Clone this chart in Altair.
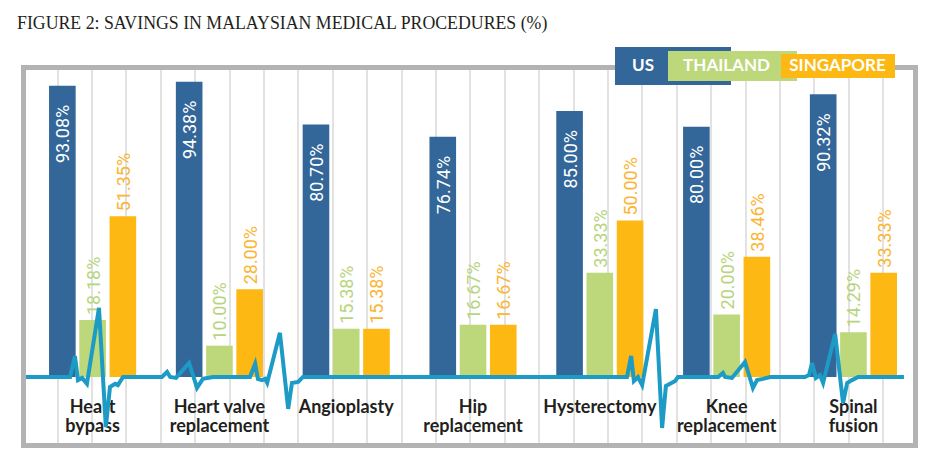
import altair as alt
import pandas as pd

categories = ["Heart bypass", "Heart valve replacement", "Angioplasty", "Hip replacement",
              "Hysterectomy", "Knee replacement", "Spinal fusion"]
category_lines = ["Heart\nbypass", "Heart valve\nreplacement", "Angioplasty", "Hip\nreplacement",
                  "Hysterectomy", "Knee\nreplacement", "Spinal\nfusion"]
countries = ["US", "THAILAND", "SINGAPORE"]
us_values = [93.08, 94.38, 80.70, 76.74, 85.00, 80.00, 90.32]
thailand_values = [18.18, 10.00, 15.38, 16.67, 33.33, 20.00, 14.29]
singapore_values = [51.35, 28.00, 15.38, 16.67, 50.00, 38.46, 33.33]

# decorative heartbeat trace (x in grid cells, y in % units)
ecg_t = [-0.93, 0.38, 0.52, 0.61, 0.73, 0.87, 1.22, 1.42, 1.54, 1.69, 1.77, 1.92,
         3.05, 3.20, 3.29, 3.46, 3.84, 4.07, 4.24, 4.54, 5.61, 5.76, 5.84, 5.96, 6.05, 6.11,
         6.48, 6.72, 6.83, 7.01, 7.15, 16.57, 16.69, 16.77, 16.89, 17.01, 17.41, 17.59,
         17.70, 17.82, 17.97, 18.05, 19.22, 19.36, 19.42, 19.62, 20.00, 20.23, 20.35, 20.52,
         20.73, 21.74, 21.86, 21.95, 22.06, 22.18, 22.27, 22.62, 22.85, 22.97, 23.11, 23.29, 24.62]
ecg_v = [0, 0, 6.7, -1.0, -0.3, -2.2, 22.1, -16.0, -3.2, -2.2, -2.6, 0,
         0, 1.6, 0, -0.3, 4.5, -3.5, -0.6, 0, 0, 4.2, -0.6, -1.0, -0.6, -1.9,
         14.1, -10.2, -1.9, -1.6, 0, 0, 6.7, -1.3, 0, -2.6, 21.7, -16.3,
         -2.9, -2.2, -1.3, 0, 0, 1.3, 0, -0.3, 4.8, -3.5, -1.0, -0.6,
         0, 0, 0.6, 4.5, -0.3, 0.6, -1.9, 13.7, -8.3, -1.9, -1.0, 0, 0]

rows = []
for i, cat in enumerate(categories):
    for country, vals in zip(countries, [us_values, thailand_values, singapore_values]):
        rows.append({"cat": cat, "catlabel": category_lines[i], "country": country,
                     "value": vals[i], "label": f"{vals[i]:.2f}%"})
df = pd.DataFrame(rows)
ecg_df = pd.DataFrame({"t": ecg_t, "v": ecg_v})
one = pd.DataFrame({"a": [0]})

W, H = 892, 378
DARK = "#231f20"
GRID = "#d9d9d9"

x_enc = alt.X("cat:N", sort=categories, axis=None,
              scale=alt.Scale(paddingInner=0.313, paddingOuter=0.1737, align=0.58))
xo_enc = alt.XOffset("country:N", sort=countries,
                     scale=alt.Scale(paddingInner=0.12, paddingOuter=0))
y_scale = alt.Scale(domain=[-21.9, 98.9], nice=False, zero=False)
y_axis = alt.Axis(values=[-11, 0, 11, 22, 33, 44, 55, 66, 77, 88], grid=True, gridColor=GRID,
                  gridWidth=1.5, gridOpacity=1, labels=False, ticks=False, domain=False, title=None)

bars = alt.Chart(df).mark_bar().encode(
    x=x_enc, xOffset=xo_enc,
    y=alt.Y("value:Q", scale=y_scale, axis=y_axis, stack=None),
    y2=alt.datum(0),
    color=alt.Color("country:N", scale=alt.Scale(domain=countries,
                    range=["#336699", "#bdd77b", "#fdb813"]), legend=None),
)

us_labels = alt.Chart(df).transform_filter("datum.country == 'US'").mark_text(
    angle=270, align="right", baseline="middle", dx=-19, dy=2,
    font="Roboto", fontSize=18, fill="white"
).encode(x=x_enc, xOffset=xo_enc, y=alt.Y("value:Q", scale=y_scale, axis=None), text="label:N")

other_labels = alt.Chart(df).transform_filter("datum.country != 'US'").mark_text(
    angle=270, align="left", baseline="middle", dx=5, dy=2,
    font="Roboto", fontSize=18
).encode(
    x=x_enc, xOffset=xo_enc, y=alt.Y("value:Q", scale=y_scale, axis=None), text="label:N",
    fill=alt.condition("datum.country == 'THAILAND'", alt.value("#b8d57d"), alt.value("#fbb534")),
)

cat_labels = alt.Chart(df).transform_filter("datum.country == 'US'").mark_text(
    align="center", baseline="top", lineBreak="\n", lineHeight=19,
    font="Lato", fontWeight="bold", fontSize=18, fill=DARK
).encode(x=x_enc, y=alt.datum(-7.0), text="catlabel:N")

main = alt.layer(bars, us_labels, other_labels, cat_labels)

ecg = alt.Chart(ecg_df).mark_line(color="#1b9bc5", strokeWidth=4, strokeJoin="miter").encode(
    x=alt.X("t:Q", scale=alt.Scale(domain=[-0.974, 24.956], nice=False, zero=False),
            axis=alt.Axis(values=list(range(25)), grid=True, gridColor=GRID, gridWidth=1.5,
                          gridOpacity=1, labels=False, ticks=False, domain=False, title=None)),
    y=alt.Y("v:Q", scale=y_scale, axis=None),
)

frame = alt.Chart(one).mark_rect(fillOpacity=0, stroke="#b3b3b3", strokeWidth=5).encode(
    x=alt.value(0), x2=alt.value(W), y=alt.value(0), y2=alt.value(H))


def box(x1, x2, y1, y2, color):
    return alt.Chart(one).mark_rect(color=color).encode(
        x=alt.value(x1), x2=alt.value(x2), y=alt.value(y1), y2=alt.value(y2))


def label(txt, x, y, size=17, color="white", font="Lato", weight="bold", align="center",
          baseline="middle"):
    return alt.Chart(one).mark_text(text=txt, font=font, fontSize=size, fontWeight=weight,
                                    fill=color, align=align, baseline=baseline).encode(
        x=alt.value(x), y=alt.value(y))


legend = [
    box(591.5, 707.5, -20.5, 17.5, "#336699"),
    box(644.5, 773.5, -16.5, 13.5, "#bdd77b"),
    box(757.5, 871.5, -13.5, 10.5, "#fdb813"),
    label("US", 619.5, -1.5),
    label("THAILAND", 703, -1.5),
    label("SINGAPORE", 814, -1.5),
]

title = label("FIGURE 2: SAVINGS IN MALAYSIAN MEDICAL PROCEDURES (%)", -6.5, -38.5, size=17.8,
              color=DARK, font="Liberation Serif", weight="normal", align="left",
              baseline="alphabetic")

chart = alt.layer(main, ecg, frame, *legend, title).resolve_scale(x="independent").properties(
    width=W, height=H,
    autosize=alt.AutoSizeParams(type="none"),
    padding={"left": 15.5, "top": 59.5, "right": 10, "bottom": 10},
).configure_view(stroke=None)

chart.save("out.html", embed_options={"renderer": "svg", "actions": False})
